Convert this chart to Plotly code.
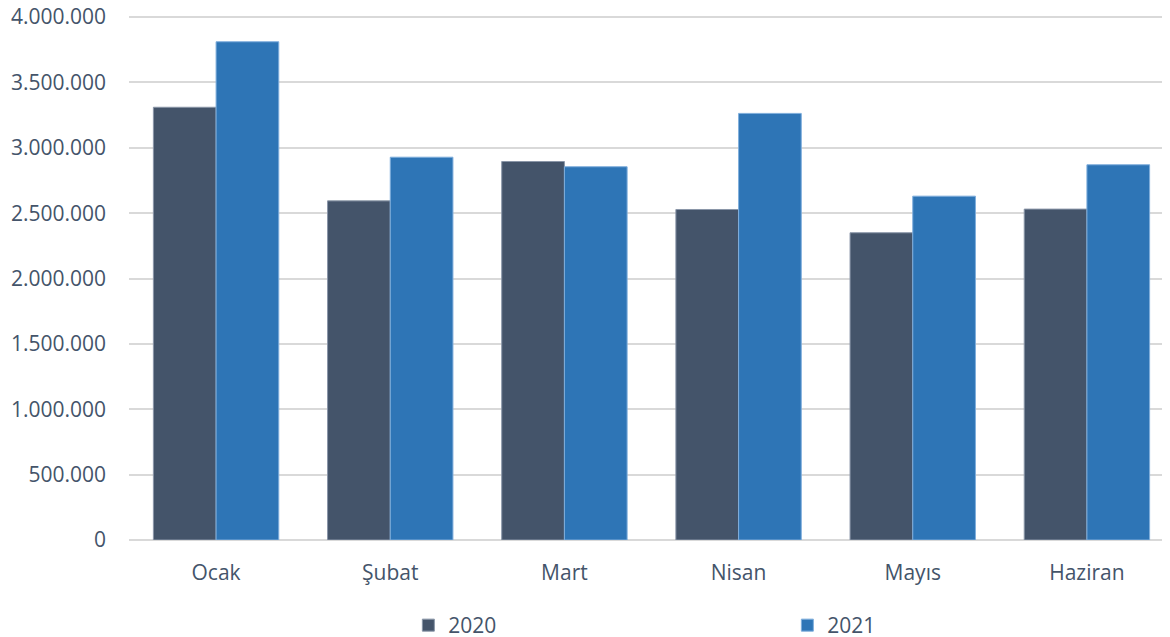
import plotly.graph_objects as go

# months (Turkish) and monthly values per year
months = ['Ocak', 'Şubat', 'Mart', 'Nisan', 'Mayıs', 'Haziran']
values_2020 = [3310000, 2594000, 2895000, 2528000, 2350000, 2531000]
values_2021 = [3811000, 2928000, 2855000, 3263000, 2630000, 2870000]

tick_vals = [0, 500000, 1000000, 1500000, 2000000, 2500000, 3000000, 3500000, 4000000]
tick_text = ['0', '500.000', '1.000.000', '1.500.000', '2.000.000',
             '2.500.000', '3.000.000', '3.500.000', '4.000.000']

text_color = '#44546A'
font_family = 'Open Sans, Noto Sans, sans-serif'

fig = go.Figure()
fig.add_trace(go.Bar(
    x=months, y=values_2020, name='2020',
    marker=dict(color='#44546A', line=dict(color='#8A96A8', width=1)),
))
fig.add_trace(go.Bar(
    x=months, y=values_2021, name='2021',
    marker=dict(color='#2E75B6', line=dict(color='#7FAEDC', width=1)),
))

# page has an 8px body margin, so offsets are compensated here
fig.update_layout(
    width=1170, height=637,
    margin=dict(l=121, r=4, t=8, b=105, autoexpand=False),
    plot_bgcolor='white', paper_bgcolor='white',
    barmode='group', bargap=0.28, bargroupgap=0,
    font=dict(family=font_family, size=21, color=text_color),
    showlegend=True,
    legend=dict(
        orientation='h', xref='paper', x=0.63, xanchor='center',
        yref='paper', y=-0.124, yanchor='top',
        entrywidth=334, entrywidthmode='pixels',
        font=dict(size=21, color=text_color),
        traceorder='normal',
    ),
    xaxis=dict(
        range=[-0.5, 5.5], showgrid=False, showline=False,
        ticks='', ticklabelstandoff=18,
        tickfont=dict(size=21, color=text_color),
    ),
    yaxis=dict(
        range=[0, 4008000], tickvals=tick_vals, ticktext=tick_text,
        showgrid=True, gridcolor='#D9D9D9', gridwidth=1.5,
        zeroline=True, zerolinecolor='#D9D9D9', zerolinewidth=1.5,
        showline=False, ticks='', ticklabelstandoff=22,
        ticklabeloverflow='allow',
        tickfont=dict(size=21, color=text_color),
    ),
)

fig.write_html("out.html")
